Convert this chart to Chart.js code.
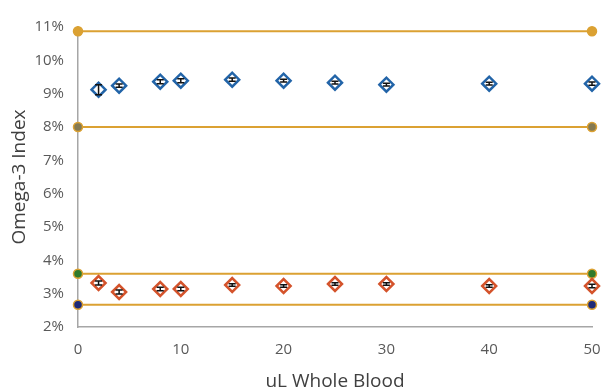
<!DOCTYPE html>
<html>
<head>
<meta charset="utf-8">
<script src="https://cdn.jsdelivr.net/npm/chart.js@4.4.1/dist/chart.umd.min.js"></script>
<style>
  html, body { margin: 0; padding: 0; background: #fff; }
  #wrap { width: 603px; height: 388px; }
</style>
</head>
<body>
<div id="wrap"><canvas id="chart" width="603" height="388"></canvas></div>
<script>
// volumes (uL whole blood)
const volumes = [2, 4, 8, 10, 15, 20, 25, 30, 40, 50];
// omega-3 index, high sample (%)
const highValues = [9.12, 9.24, 9.36, 9.39, 9.42, 9.39, 9.33, 9.27, 9.30, 9.30];
const highErrors = [0.15, 0.05, 0.06, 0.06, 0.05, 0.04, 0.04, 0.04, 0.04, 0.05];
// omega-3 index, low sample (%)
const lowValues = [3.32, 3.05, 3.14, 3.14, 3.26, 3.23, 3.29, 3.29, 3.23, 3.23];
const lowErrors = [0.06, 0.06, 0.05, 0.05, 0.04, 0.04, 0.04, 0.04, 0.04, 0.05];
// reference range lines
const xRange = [0, 50];
const highUpper = 10.87;
const highLower = 8.0;
const lowUpper = 3.6;
const lowLower = 2.67;
const yTicks = [2, 3, 4, 5, 6, 7, 8, 9, 10, 11];
const xTicks = [0, 10, 20, 30, 40, 50];

const gold = '#DBA132';

function pts(xs, ys) {
    return xs.map((x, i) => ({ x: x, y: ys[i] }));
}
function flat(v) {
    return xRange.map(x => ({ x: x, y: v }));
}
function rangeLine(v, dotColors) {
    return {
        type: 'line',
        data: flat(v),
        borderColor: gold,
        borderWidth: 2,
        pointRadius: 4.5,
        pointBackgroundColor: dotColors,
        pointBorderColor: gold,
        pointBorderWidth: 1.5,
        order: 5
    };
}

// small error bars drawn on top of markers
const errorBars = {
    id: 'errorBars',
    afterDatasetsDraw(chart) {
        const ctx = chart.ctx;
        const xs = chart.scales.x, ys = chart.scales.y;
        const sets = [[highValues, highErrors], [lowValues, lowErrors]];
        ctx.save();
        ctx.strokeStyle = '#111';
        ctx.lineWidth = 1.5;
        sets.forEach(([vals, errs]) => {
            vals.forEach((v, i) => {
                const px = xs.getPixelForValue(volumes[i]);
                const top = ys.getPixelForValue(v + errs[i]);
                const bot = ys.getPixelForValue(v - errs[i]);
                ctx.beginPath();
                ctx.moveTo(px, top); ctx.lineTo(px, bot);
                ctx.moveTo(px - 3.5, top); ctx.lineTo(px + 3.5, top);
                ctx.moveTo(px - 3.5, bot); ctx.lineTo(px + 3.5, bot);
                ctx.stroke();
            });
        });
        ctx.restore();
    }
};

new Chart(document.getElementById('chart'), {
    type: 'scatter',
    data: {
        datasets: [
            {
                data: pts(volumes, highValues),
                pointStyle: 'rectRot',
                pointRadius: 7,
                pointBackgroundColor: '#fff',
                pointBorderColor: '#2264A8',
                pointBorderWidth: 2.5,
                order: 1
            },
            {
                data: pts(volumes, lowValues),
                pointStyle: 'rectRot',
                pointRadius: 7,
                pointBackgroundColor: '#fff',
                pointBorderColor: '#D4532B',
                pointBorderWidth: 2.5,
                order: 1
            },
            rangeLine(highUpper, [gold, gold]),
            rangeLine(highLower, ['#857A52', '#857A52']),
            rangeLine(lowUpper, ['#2F7A2B', '#2F7A2B']),
            rangeLine(lowLower, ['#1D2A78', '#1D2A78'])
        ]
    },
    options: {
        responsive: false,
        animation: false,
        clip: false,
        layout: { padding: { top: 27, right: 11, left: 0, bottom: 0 } },
        plugins: { legend: { display: false }, tooltip: { enabled: false } },
        scales: {
            x: {
                type: 'linear',
                min: 0, max: 50,
                afterBuildTicks: s => { s.ticks = xTicks.map(v => ({ value: v })); },
                afterFit: s => { s.height = 61; s.paddingRight = 0; s.paddingLeft = 0; },
                grid: { display: false, drawTicks: false },
                border: { display: true, color: '#A6A6A6', width: 1.5 },
                ticks: { color: '#595959', font: { family: 'Open Sans', size: 15 }, padding: 14 },
                title: { display: true, text: 'uL Whole Blood', color: '#404040',
                         font: { family: 'Open Sans', size: 19, lineHeight: 1 }, padding: { top: 0, bottom: -3 } }
            },
            y: {
                min: 2, max: 11,
                afterBuildTicks: s => { s.ticks = yTicks.map(v => ({ value: v })); },
                afterFit: s => { s.width = 78; },
                grid: { display: false, drawTicks: false },
                border: { display: true, color: '#A6A6A6', width: 1.5 },
                ticks: { color: '#595959', font: { family: 'Open Sans', size: 15 }, padding: 14,
                         callback: v => v + '%' },
                title: { display: true, text: 'Omega-3 Index', color: '#404040',
                         font: { family: 'Open Sans', size: 19 }, padding: { top: 8, bottom: 0 } }
            }
        }
    },
    plugins: [errorBars]
});
</script>
</body>
</html>
